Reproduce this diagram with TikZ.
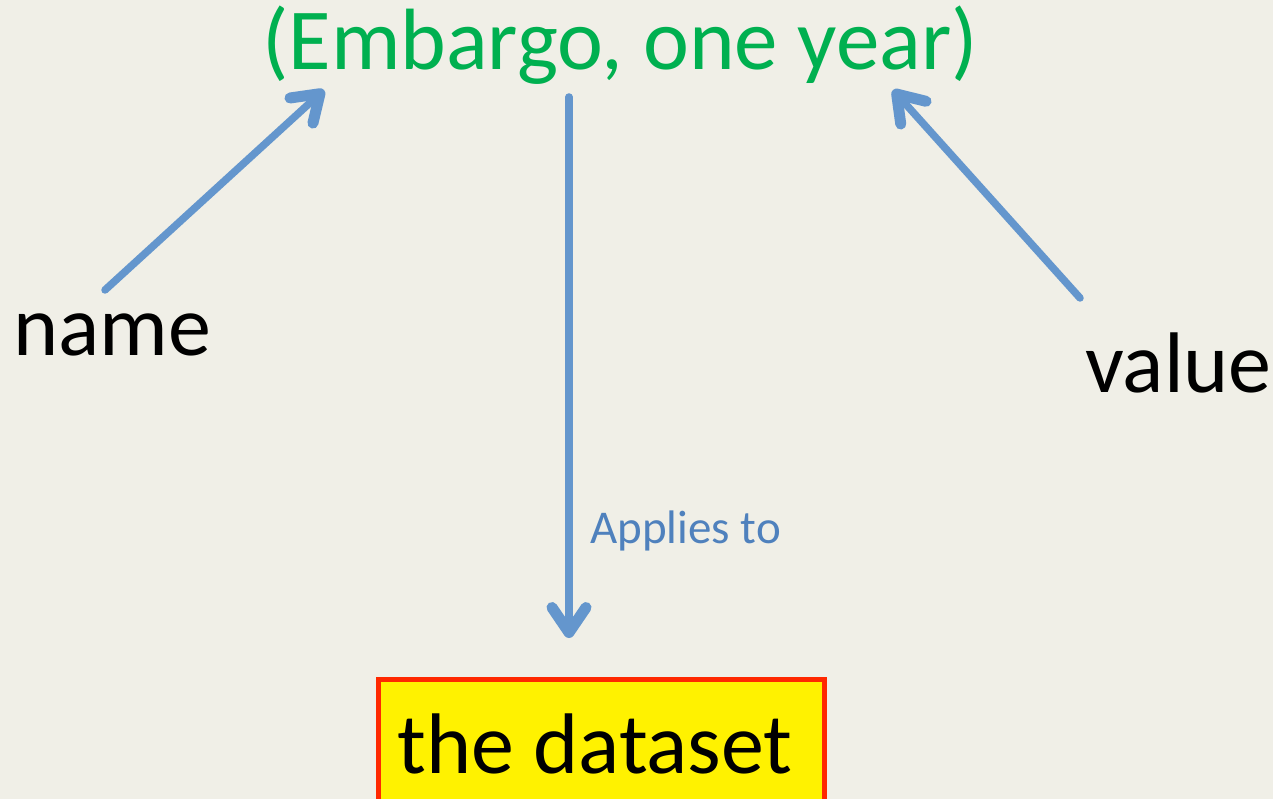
\documentclass[tikz,border=0pt]{standalone}
\usepackage{fontspec}
\setmainfont{Carlito}
\usetikzlibrary{arrows.meta}
\definecolor{bg}{RGB}{240,239,231}
\definecolor{arrowblue}{RGB}{100,150,205}
\definecolor{labelblue}{RGB}{79,129,189}
\definecolor{titlegreen}{RGB}{0,176,80}
\definecolor{boxred}{RGB}{255,40,0}
\tikzset{
  bigtext/.style={font=\fontsize{86}{100}\selectfont, inner sep=0pt, anchor=base west},
  connector/.style={draw=arrowblue, line width=7.5pt, line cap=round,
    -{Straight Barb[length=25pt, width=34pt, line width=11pt, line cap=round, line join=round]}}
}
\begin{document}
\begin{tikzpicture}[x=1pt,y=-1pt]
\useasboundingbox (0,0) rectangle (1273,799);
\fill[bg] (0,0) rectangle (1273,799);
\node[font=\fontsize{87}{100}\selectfont, inner sep=0pt, anchor=base, text=titlegreen] (title) at (620,70) {(Embargo, one year)};
\node[bigtext] (name) at (13,355) {name};
\node[bigtext] (value) at (1085,392) {value};
\draw[boxred, line width=5pt, fill=yellow] (378.5,679.5) rectangle (824.5,820);
\node[bigtext] (dataset) at (397,773) {the dataset};
\node[font=\fontsize{47}{56}\selectfont, inner sep=0pt, anchor=base west, text=labelblue] (applies) at (590,543) {Applies to};
\coordinate (nameS) at (105,290);
\coordinate (nameT) at (324,90);
\coordinate (valS) at (1080,298);
\coordinate (valT) at (893,90);
\coordinate (midS) at (569,97);
\coordinate (midT) at (569,638);
\draw[connector] (nameS) -- (nameT);
\draw[connector] (valS) -- (valT);
\draw[connector] (midS) -- (midT);
\end{tikzpicture}
\end{document}
